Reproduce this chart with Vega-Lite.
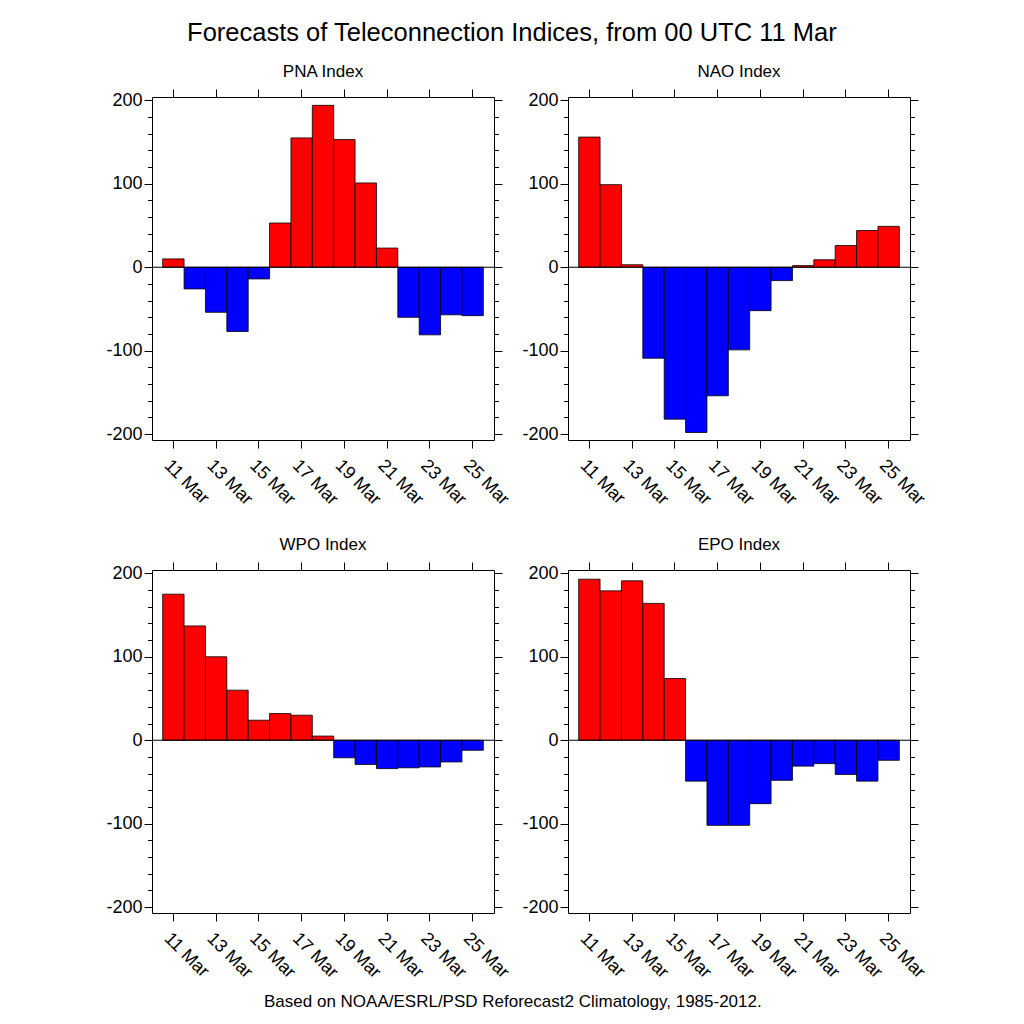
{
  "$schema": "https://vega.github.io/schema/vega-lite/v6.json",
  "padding": {"left": 105, "top": 20, "right": 5, "bottom": 5},
  "title": {"text": "Forecasts of Teleconnection Indices, from 00 UTC 11 Mar", "fontSize": 25.5, "offset": 16, "anchor": "middle", "dx": -5},
  "datasets": {
    "tele": [
      {"index": "PNA", "date": "11 Mar", "value": 10},
      {"index": "PNA", "date": "12 Mar", "value": -26},
      {"index": "PNA", "date": "13 Mar", "value": -54},
      {"index": "PNA", "date": "14 Mar", "value": -77},
      {"index": "PNA", "date": "15 Mar", "value": -14},
      {"index": "PNA", "date": "16 Mar", "value": 53},
      {"index": "PNA", "date": "17 Mar", "value": 155},
      {"index": "PNA", "date": "18 Mar", "value": 194},
      {"index": "PNA", "date": "19 Mar", "value": 153},
      {"index": "PNA", "date": "20 Mar", "value": 101},
      {"index": "PNA", "date": "21 Mar", "value": 23},
      {"index": "PNA", "date": "22 Mar", "value": -60},
      {"index": "PNA", "date": "23 Mar", "value": -81},
      {"index": "PNA", "date": "24 Mar", "value": -57},
      {"index": "PNA", "date": "25 Mar", "value": -58},
      {"index": "NAO", "date": "11 Mar", "value": 156},
      {"index": "NAO", "date": "12 Mar", "value": 99},
      {"index": "NAO", "date": "13 Mar", "value": 3},
      {"index": "NAO", "date": "14 Mar", "value": -109},
      {"index": "NAO", "date": "15 Mar", "value": -182},
      {"index": "NAO", "date": "16 Mar", "value": -198},
      {"index": "NAO", "date": "17 Mar", "value": -154},
      {"index": "NAO", "date": "18 Mar", "value": -99},
      {"index": "NAO", "date": "19 Mar", "value": -52},
      {"index": "NAO", "date": "20 Mar", "value": -16},
      {"index": "NAO", "date": "21 Mar", "value": 2},
      {"index": "NAO", "date": "22 Mar", "value": 9},
      {"index": "NAO", "date": "23 Mar", "value": 26},
      {"index": "NAO", "date": "24 Mar", "value": 44},
      {"index": "NAO", "date": "25 Mar", "value": 49},
      {"index": "WPO", "date": "11 Mar", "value": 175},
      {"index": "WPO", "date": "12 Mar", "value": 137},
      {"index": "WPO", "date": "13 Mar", "value": 100},
      {"index": "WPO", "date": "14 Mar", "value": 60},
      {"index": "WPO", "date": "15 Mar", "value": 24},
      {"index": "WPO", "date": "16 Mar", "value": 32},
      {"index": "WPO", "date": "17 Mar", "value": 30},
      {"index": "WPO", "date": "18 Mar", "value": 5},
      {"index": "WPO", "date": "19 Mar", "value": -21},
      {"index": "WPO", "date": "20 Mar", "value": -29},
      {"index": "WPO", "date": "21 Mar", "value": -34},
      {"index": "WPO", "date": "22 Mar", "value": -33},
      {"index": "WPO", "date": "23 Mar", "value": -32},
      {"index": "WPO", "date": "24 Mar", "value": -26},
      {"index": "WPO", "date": "25 Mar", "value": -12},
      {"index": "EPO", "date": "11 Mar", "value": 193},
      {"index": "EPO", "date": "12 Mar", "value": 179},
      {"index": "EPO", "date": "13 Mar", "value": 191},
      {"index": "EPO", "date": "14 Mar", "value": 164},
      {"index": "EPO", "date": "15 Mar", "value": 74},
      {"index": "EPO", "date": "16 Mar", "value": -49},
      {"index": "EPO", "date": "17 Mar", "value": -102},
      {"index": "EPO", "date": "18 Mar", "value": -102},
      {"index": "EPO", "date": "19 Mar", "value": -76},
      {"index": "EPO", "date": "20 Mar", "value": -48},
      {"index": "EPO", "date": "21 Mar", "value": -31},
      {"index": "EPO", "date": "22 Mar", "value": -28},
      {"index": "EPO", "date": "23 Mar", "value": -41},
      {"index": "EPO", "date": "24 Mar", "value": -49},
      {"index": "EPO", "date": "25 Mar", "value": -24}
    ]
  },
  "vconcat": [
    {
      "title": {"text": "Based on NOAA/ESRL/PSD Reforecast2 Climatology, 1985-2012.", "orient": "bottom", "fontSize": 17, "offset": 12, "anchor": "middle", "dx": -4},
      "columns": 2,
      "bounds": "flush",
      "spacing": {"row": 130, "column": 74},
      "concat": [
        {
          "title": "PNA Index",
          "width": 342, "height": 343,
          "layer": [
            {"data": {"name": "tele"}, "transform": [{"filter": "datum.index === 'PNA'"}],
             "mark": {"type": "bar", "stroke": "black", "strokeWidth": 0.8},
             "encoding": {
               "x": {"field": "date", "type": "ordinal", "scale": {"domain": ["11 Mar","12 Mar","13 Mar","14 Mar","15 Mar","16 Mar","17 Mar","18 Mar","19 Mar","20 Mar","21 Mar","22 Mar","23 Mar","24 Mar","25 Mar"], "paddingInner": 0, "paddingOuter": 0.5},
                     "axis": {"orient": "bottom", "title": null, "values": ["11 Mar","13 Mar","15 Mar","17 Mar","19 Mar","21 Mar","23 Mar","25 Mar"], "labelAngle": 45, "labelAlign": "left", "labelBaseline": "top", "labelPadding": 8, "tickSize": 8, "labelOverlap": false}},
               "y": {"field": "value", "type": "quantitative", "scale": {"domain": [-207, 204], "nice": false, "zero": false},
                     "axis": {"orient": "left", "title": null, "values": [-200,-180,-160,-140,-120,-100,-80,-60,-40,-20,0,20,40,60,80,100,120,140,160,180,200], "labelExpr": "datum.value % 100 === 0 ? '' + datum.value : ''", "tickSize": {"condition": {"test": "datum.value % 100 === 0", "value": 8}, "value": 4.5}, "labelPadding": 2}},
               "fill": {"condition": {"test": "datum.value > 0", "value": "#ff0000"}, "value": "#0000ff"}
             }},
            {"data": {"name": "tele"}, "transform": [{"filter": "datum.index === 'PNA'"}],
             "mark": {"type": "bar", "opacity": 0},
             "encoding": {
               "x": {"field": "date", "type": "ordinal", "scale": {"domain": ["11 Mar","12 Mar","13 Mar","14 Mar","15 Mar","16 Mar","17 Mar","18 Mar","19 Mar","20 Mar","21 Mar","22 Mar","23 Mar","24 Mar","25 Mar"], "paddingInner": 0, "paddingOuter": 0.5},
                     "axis": {"orient": "top", "title": null, "values": ["11 Mar","13 Mar","15 Mar","17 Mar","19 Mar","21 Mar","23 Mar","25 Mar"], "labels": false, "tickSize": 8}},
               "y": {"field": "value", "type": "quantitative", "scale": {"domain": [-207, 204], "nice": false, "zero": false},
                     "axis": {"orient": "right", "title": null, "values": [-200,-180,-160,-140,-120,-100,-80,-60,-40,-20,0,20,40,60,80,100,120,140,160,180,200], "labels": false, "tickSize": {"condition": {"test": "datum.value % 100 === 0", "value": 8}, "value": 4.5}}}
             }},
            {"data": {"values": [{"v": 0}]},
             "mark": {"type": "rule", "color": "black", "strokeWidth": 1},
             "encoding": {"y": {"field": "v", "type": "quantitative", "scale": {"domain": [-207, 204], "nice": false, "zero": false}, "axis": null}}}
          ],
          "resolve": {"axis": {"x": "independent", "y": "independent"}}
        },
        {
          "title": "NAO Index",
          "width": 342, "height": 343,
          "layer": [
            {"data": {"name": "tele"}, "transform": [{"filter": "datum.index === 'NAO'"}],
             "mark": {"type": "bar", "stroke": "black", "strokeWidth": 0.8},
             "encoding": {
               "x": {"field": "date", "type": "ordinal", "scale": {"domain": ["11 Mar","12 Mar","13 Mar","14 Mar","15 Mar","16 Mar","17 Mar","18 Mar","19 Mar","20 Mar","21 Mar","22 Mar","23 Mar","24 Mar","25 Mar"], "paddingInner": 0, "paddingOuter": 0.5},
                     "axis": {"orient": "bottom", "title": null, "values": ["11 Mar","13 Mar","15 Mar","17 Mar","19 Mar","21 Mar","23 Mar","25 Mar"], "labelAngle": 45, "labelAlign": "left", "labelBaseline": "top", "labelPadding": 8, "tickSize": 8, "labelOverlap": false}},
               "y": {"field": "value", "type": "quantitative", "scale": {"domain": [-207, 204], "nice": false, "zero": false},
                     "axis": {"orient": "left", "title": null, "values": [-200,-180,-160,-140,-120,-100,-80,-60,-40,-20,0,20,40,60,80,100,120,140,160,180,200], "labelExpr": "datum.value % 100 === 0 ? '' + datum.value : ''", "tickSize": {"condition": {"test": "datum.value % 100 === 0", "value": 8}, "value": 4.5}, "labelPadding": 2}},
               "fill": {"condition": {"test": "datum.value > 0", "value": "#ff0000"}, "value": "#0000ff"}
             }},
            {"data": {"name": "tele"}, "transform": [{"filter": "datum.index === 'NAO'"}],
             "mark": {"type": "bar", "opacity": 0},
             "encoding": {
               "x": {"field": "date", "type": "ordinal", "scale": {"domain": ["11 Mar","12 Mar","13 Mar","14 Mar","15 Mar","16 Mar","17 Mar","18 Mar","19 Mar","20 Mar","21 Mar","22 Mar","23 Mar","24 Mar","25 Mar"], "paddingInner": 0, "paddingOuter": 0.5},
                     "axis": {"orient": "top", "title": null, "values": ["11 Mar","13 Mar","15 Mar","17 Mar","19 Mar","21 Mar","23 Mar","25 Mar"], "labels": false, "tickSize": 8}},
               "y": {"field": "value", "type": "quantitative", "scale": {"domain": [-207, 204], "nice": false, "zero": false},
                     "axis": {"orient": "right", "title": null, "values": [-200,-180,-160,-140,-120,-100,-80,-60,-40,-20,0,20,40,60,80,100,120,140,160,180,200], "labels": false, "tickSize": {"condition": {"test": "datum.value % 100 === 0", "value": 8}, "value": 4.5}}}
             }},
            {"data": {"values": [{"v": 0}]},
             "mark": {"type": "rule", "color": "black", "strokeWidth": 1},
             "encoding": {"y": {"field": "v", "type": "quantitative", "scale": {"domain": [-207, 204], "nice": false, "zero": false}, "axis": null}}}
          ],
          "resolve": {"axis": {"x": "independent", "y": "independent"}}
        },
        {
          "title": "WPO Index",
          "width": 342, "height": 343,
          "layer": [
            {"data": {"name": "tele"}, "transform": [{"filter": "datum.index === 'WPO'"}],
             "mark": {"type": "bar", "stroke": "black", "strokeWidth": 0.8},
             "encoding": {
               "x": {"field": "date", "type": "ordinal", "scale": {"domain": ["11 Mar","12 Mar","13 Mar","14 Mar","15 Mar","16 Mar","17 Mar","18 Mar","19 Mar","20 Mar","21 Mar","22 Mar","23 Mar","24 Mar","25 Mar"], "paddingInner": 0, "paddingOuter": 0.5},
                     "axis": {"orient": "bottom", "title": null, "values": ["11 Mar","13 Mar","15 Mar","17 Mar","19 Mar","21 Mar","23 Mar","25 Mar"], "labelAngle": 45, "labelAlign": "left", "labelBaseline": "top", "labelPadding": 8, "tickSize": 8, "labelOverlap": false}},
               "y": {"field": "value", "type": "quantitative", "scale": {"domain": [-207, 204], "nice": false, "zero": false},
                     "axis": {"orient": "left", "title": null, "values": [-200,-180,-160,-140,-120,-100,-80,-60,-40,-20,0,20,40,60,80,100,120,140,160,180,200], "labelExpr": "datum.value % 100 === 0 ? '' + datum.value : ''", "tickSize": {"condition": {"test": "datum.value % 100 === 0", "value": 8}, "value": 4.5}, "labelPadding": 2}},
               "fill": {"condition": {"test": "datum.value > 0", "value": "#ff0000"}, "value": "#0000ff"}
             }},
            {"data": {"name": "tele"}, "transform": [{"filter": "datum.index === 'WPO'"}],
             "mark": {"type": "bar", "opacity": 0},
             "encoding": {
               "x": {"field": "date", "type": "ordinal", "scale": {"domain": ["11 Mar","12 Mar","13 Mar","14 Mar","15 Mar","16 Mar","17 Mar","18 Mar","19 Mar","20 Mar","21 Mar","22 Mar","23 Mar","24 Mar","25 Mar"], "paddingInner": 0, "paddingOuter": 0.5},
                     "axis": {"orient": "top", "title": null, "values": ["11 Mar","13 Mar","15 Mar","17 Mar","19 Mar","21 Mar","23 Mar","25 Mar"], "labels": false, "tickSize": 8}},
               "y": {"field": "value", "type": "quantitative", "scale": {"domain": [-207, 204], "nice": false, "zero": false},
                     "axis": {"orient": "right", "title": null, "values": [-200,-180,-160,-140,-120,-100,-80,-60,-40,-20,0,20,40,60,80,100,120,140,160,180,200], "labels": false, "tickSize": {"condition": {"test": "datum.value % 100 === 0", "value": 8}, "value": 4.5}}}
             }},
            {"data": {"values": [{"v": 0}]},
             "mark": {"type": "rule", "color": "black", "strokeWidth": 1},
             "encoding": {"y": {"field": "v", "type": "quantitative", "scale": {"domain": [-207, 204], "nice": false, "zero": false}, "axis": null}}}
          ],
          "resolve": {"axis": {"x": "independent", "y": "independent"}}
        },
        {
          "title": "EPO Index",
          "width": 342, "height": 343,
          "layer": [
            {"data": {"name": "tele"}, "transform": [{"filter": "datum.index === 'EPO'"}],
             "mark": {"type": "bar", "stroke": "black", "strokeWidth": 0.8},
             "encoding": {
               "x": {"field": "date", "type": "ordinal", "scale": {"domain": ["11 Mar","12 Mar","13 Mar","14 Mar","15 Mar","16 Mar","17 Mar","18 Mar","19 Mar","20 Mar","21 Mar","22 Mar","23 Mar","24 Mar","25 Mar"], "paddingInner": 0, "paddingOuter": 0.5},
                     "axis": {"orient": "bottom", "title": null, "values": ["11 Mar","13 Mar","15 Mar","17 Mar","19 Mar","21 Mar","23 Mar","25 Mar"], "labelAngle": 45, "labelAlign": "left", "labelBaseline": "top", "labelPadding": 8, "tickSize": 8, "labelOverlap": false}},
               "y": {"field": "value", "type": "quantitative", "scale": {"domain": [-207, 204], "nice": false, "zero": false},
                     "axis": {"orient": "left", "title": null, "values": [-200,-180,-160,-140,-120,-100,-80,-60,-40,-20,0,20,40,60,80,100,120,140,160,180,200], "labelExpr": "datum.value % 100 === 0 ? '' + datum.value : ''", "tickSize": {"condition": {"test": "datum.value % 100 === 0", "value": 8}, "value": 4.5}, "labelPadding": 2}},
               "fill": {"condition": {"test": "datum.value > 0", "value": "#ff0000"}, "value": "#0000ff"}
             }},
            {"data": {"name": "tele"}, "transform": [{"filter": "datum.index === 'EPO'"}],
             "mark": {"type": "bar", "opacity": 0},
             "encoding": {
               "x": {"field": "date", "type": "ordinal", "scale": {"domain": ["11 Mar","12 Mar","13 Mar","14 Mar","15 Mar","16 Mar","17 Mar","18 Mar","19 Mar","20 Mar","21 Mar","22 Mar","23 Mar","24 Mar","25 Mar"], "paddingInner": 0, "paddingOuter": 0.5},
                     "axis": {"orient": "top", "title": null, "values": ["11 Mar","13 Mar","15 Mar","17 Mar","19 Mar","21 Mar","23 Mar","25 Mar"], "labels": false, "tickSize": 8}},
               "y": {"field": "value", "type": "quantitative", "scale": {"domain": [-207, 204], "nice": false, "zero": false},
                     "axis": {"orient": "right", "title": null, "values": [-200,-180,-160,-140,-120,-100,-80,-60,-40,-20,0,20,40,60,80,100,120,140,160,180,200], "labels": false, "tickSize": {"condition": {"test": "datum.value % 100 === 0", "value": 8}, "value": 4.5}}}
             }},
            {"data": {"values": [{"v": 0}]},
             "mark": {"type": "rule", "color": "black", "strokeWidth": 1},
             "encoding": {"y": {"field": "v", "type": "quantitative", "scale": {"domain": [-207, 204], "nice": false, "zero": false}, "axis": null}}}
          ],
          "resolve": {"axis": {"x": "independent", "y": "independent"}}
        }
      ]
    }
  ],
  "config": {
    "font": "Liberation Sans",
    "view": {"stroke": "black", "strokeWidth": 1},
    "axis": {"domain": false, "grid": false, "tickColor": "black", "tickWidth": 1, "labelColor": "black", "labelFont": "Liberation Sans", "labelFontSize": 18},
    "title": {"font": "Liberation Sans", "fontSize": 17, "fontWeight": "normal", "color": "black", "offset": 8}
  }
}
